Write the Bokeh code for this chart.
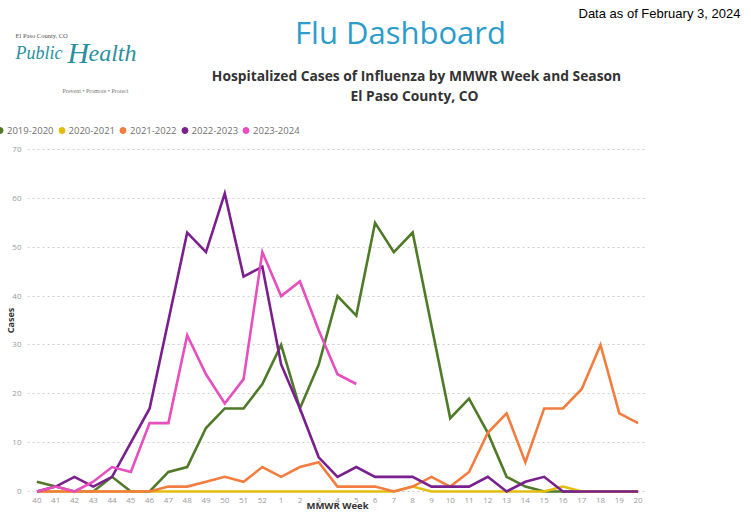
from bokeh.plotting import figure
from bokeh.models import (FactorRange, Range1d, Label, Legend, LegendItem,
                          FixedTicker, ColumnDataSource)
from bokeh.embed import file_html
from bokeh.resources import INLINE

# ---- data ----
weeks = ["40", "41", "42", "43", "44", "45", "46", "47", "48", "49", "50", "51", "52",
         "1", "2", "3", "4", "5", "6", "7", "8", "9", "10", "11", "12", "13", "14",
         "15", "16", "17", "18", "19", "20"]

seasons = ["2019-2020", "2020-2021", "2021-2022", "2022-2023", "2023-2024"]
colors = ["#4f7a28", "#e3bd0e", "#f27d3f", "#7a1f8e", "#e64fbd"]

cases_2019_2020 = [2, 1, 0, 0, 3, 0, 0, 4, 5, 13, 17, 17, 22,
                   30, 17, 26, 40, 36, 55, 49, 53, 34, 15, 19, 12, 3, 1, 0, 0, 0, 0, 0, 0]
cases_2020_2021 = [0, 0, 0, 0, 0, 0, 0, 0, 0, 0, 0, 0, 0,
                   0, 0, 0, 0, 0, 0, 0, 1, 0, 0, 0, 0, 0, 0, 0, 1, 0, 0, 0, 0]
cases_2021_2022 = [0, 0, 0, 0, 0, 0, 0, 1, 1, 2, 3, 2, 5,
                   3, 5, 6, 1, 1, 1, 0, 1, 3, 1, 4, 12, 16, 6, 17, 17, 21, 30, 16, 14]
cases_2022_2023 = [0, 1, 3, 1, 3, 10, 17, 35, 53, 49, 61, 44, 46,
                   26, 17, 7, 3, 5, 3, 3, 3, 1, 1, 1, 3, 0, 2, 3, 0, 0, 0, 0, 0]
cases_2023_2024 = [0, 1, 0, 2, 5, 4, 14, 14, 32, 24, 18, 23, 49,
                   40, 43, 33, 24, 22]

y_ticks = [0, 10, 20, 30, 40, 50, 60, 70]

series = [cases_2019_2020, cases_2020_2021, cases_2021_2022, cases_2022_2023, cases_2023_2024]

W = 751
HEADER_H = 140

# ---- header (titles, logo text, legend); page coordinates, y downwards ----
hdr = figure(width=W, height=HEADER_H, x_range=Range1d(0, W), y_range=Range1d(HEADER_H, 0),
             min_border=0, x_axis_location=None, y_axis_location=None,
             output_backend="svg", toolbar_location=None)
hdr.xgrid.grid_line_color = None
hdr.ygrid.grid_line_color = None
hdr.outline_line_color = None
hdr.border_fill_color = "white"


def lab(text, X, Y, **kw):
    hdr.add_layout(Label(x=X, y=Y, text=text, text_baseline="alphabetic", **kw))


lab("Flu Dashboard", 400, 31, text_font="Open Sans", text_font_size="31px",
    text_color="#2e9ccb", text_align="center")
lab("Data as of February 3, 2024", 578, 13, text_font="Liberation Sans",
    text_font_size="13px", text_color="#000000")
lab("Hospitalized Cases of Influenza by MMWR Week and Season", 416, 75,
    text_font="Open Sans", text_font_size="13.8px", text_font_style="bold",
    text_color="#333333", text_align="center")
lab("El Paso County, CO", 414, 95,
    text_font="Open Sans", text_font_size="13.8px", text_font_style="bold",
    text_color="#333333", text_align="center")

# logo (text only)
lab("El Paso County, CO", 15, 35, text_font="Liberation Serif", text_font_size="6.5px",
    text_color="#555555")
lab("Public", 15, 52, text_font="Liberation Serif", text_font_size="18px",
    text_font_style="italic", text_color="#2a8f9e")
lab("H", 67, 52, text_font="Liberation Serif", text_font_size="30px",
    text_font_style="italic", text_color="#2a8f9e")
lab("ealth", 88, 52, text_font="Liberation Serif", text_font_size="24px",
    text_font_style="italic", text_color="#2a8f9e")
lab("Prevent \u2022 Promote \u2022 Protect", 95, 90, text_font="Liberation Serif",
    text_font_size="6px", text_color="#777777", text_align="center")

# legend with dot markers (renderers hold no drawable point)
items = []
for name, col in zip(seasons, colors):
    r = hdr.scatter(x=[float("nan")], y=[float("nan")], size=0, color=col)
    items.append(LegendItem(label=name, renderers=[r]))
legend = Legend(items=items, orientation="horizontal", location=(-8, 1),
                glyph_width=15, glyph_height=18, label_height=18, label_width=10,
                label_standoff=0, spacing=0, padding=0, margin=0,
                border_line_color=None, background_fill_alpha=0,
                label_text_font="Open Sans", label_text_font_size="9.5px",
                label_text_color="#707070", label_text_baseline="middle")
hdr.add_layout(legend)

# ---- chart ----
p = figure(x_range=FactorRange(factors=weeks, range_padding=0),
           y_range=Range1d(-0.614, 70.614),
           frame_width=620, frame_height=348,
           min_border_left=27, min_border_right=104,
           min_border_top=6, min_border_bottom=0,
           output_backend="svg", toolbar_location=None)
p.outline_line_color = None
p.border_fill_color = "white"

for vals, col in zip(series, colors):
    src = ColumnDataSource(dict(week=weeks[:len(vals)], cases=vals))
    p.line(x="week", y="cases", source=src, line_color=col, line_width=2.6,
           line_join="miter")

p.xgrid.grid_line_color = None
p.ygrid.grid_line_color = "#cfcfcf"
p.ygrid.grid_line_dash = "2 3"
p.ygrid.grid_line_width = 1

p.yaxis.ticker = FixedTicker(ticks=y_ticks)
for ax in (p.xaxis, p.yaxis):
    ax.axis_line_color = None
    ax.major_tick_line_color = None
    ax.minor_tick_line_color = None
    ax.major_tick_out = 0
    ax.major_tick_in = 0
    ax.minor_tick_out = 0
    ax.minor_tick_in = 0
    ax.major_label_text_font = "Open Sans"
    ax.major_label_text_font_size = "8px"
    ax.major_label_text_color = "#9a9a9a"
    ax.axis_label_text_font = "Open Sans"
    ax.axis_label_text_font_style = "bold"
    ax.axis_label_text_color = "#333333"
p.xaxis.major_label_standoff = 3
p.yaxis.major_label_standoff = 6
p.yaxis.axis_label = "Cases"
p.yaxis.axis_label_text_font_size = "9px"
p.yaxis.axis_label_standoff = -8
p.xaxis.axis_label = "MMWR Week"
p.xaxis.axis_label_text_font_size = "9.5px"
p.xaxis.axis_label_standoff = -7

open("out.html", "w").write(file_html([hdr, p], INLINE))
